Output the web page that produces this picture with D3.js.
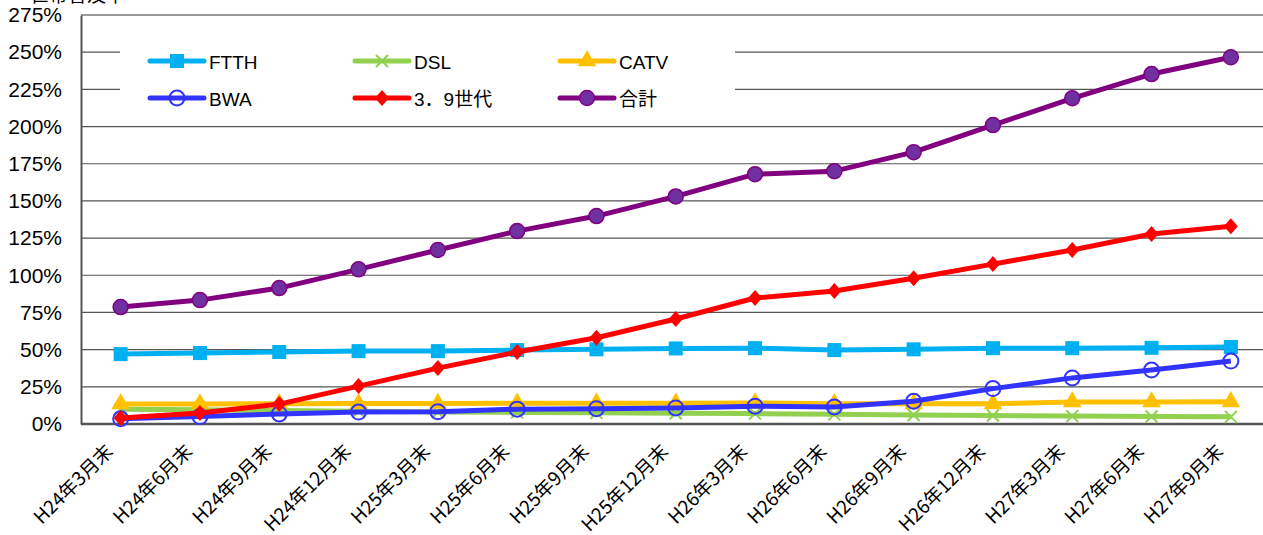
<!DOCTYPE html>
<html>
<head>
<meta charset="utf-8">
<script src="https://cdn.jsdelivr.net/npm/d3@7"></script>
<style>
  body { margin: 0; background: #fff; }
  svg { display: block; font-family: "Liberation Sans", Arial, "Noto Sans CJK JP", sans-serif; }
</style>
</head>
<body>
<svg id="chart" width="1263" height="535"></svg>
<script>
// categories (x axis)
const periods = ["H24年3月末","H24年6月末","H24年9月末","H24年12月末","H25年3月末","H25年6月末","H25年9月末",
  "H25年12月末","H26年3月末","H26年6月末","H26年9月末","H26年12月末","H27年3月末","H27年6月末","H27年9月末"];

// series values (%)
const ftth  = [47, 47.7, 48.4, 49, 49, 49.7, 50.2, 50.8, 51, 49.7, 50.2, 51, 51, 51.2, 51.8];
const dsl   = [10, 9.5, 9, 8.5, 8, 7.8, 7.5, 7.2, 7, 6.5, 6, 5.7, 5.3, 5, 4.8];
const catv  = [13.5, 13.5, 13.6, 13.7, 13.8, 13.9, 14, 14, 14.1, 13.6, 13.6, 13.6, 14.8, 14.8, 14.9];
const bwa   = [3.5, 5, 6.8, 8, 8.3, 10, 10.3, 10.8, 12, 11.5, 15.3, 23.8, 31, 36.3, 42.3];
const lte   = [4, 7.4, 13.4, 25.5, 37.6, 48.4, 58, 70.6, 84.7, 89.4, 98, 107.5, 117, 127.7, 133];
const total = [78.6, 83.3, 91.4, 104, 117, 129.7, 139.8, 153, 168, 170, 182.8, 201, 219, 235.3, 246.6];

const yTicks = [0, 25, 50, 75, 100, 125, 150, 175, 200, 225, 250, 275];

const series = [
  { name: "FTTH",   values: ftth,  color: "#00B0F0", fill: "#00B0F0", marker: "square" },
  { name: "DSL",    values: dsl,   color: "#92D050", fill: "none",    marker: "cross" },
  { name: "CATV",   values: catv,  color: "#FFC000", fill: "#FFC000", marker: "triangle" },
  { name: "BWA",    values: bwa,   color: "#3333FF", fill: "#fff",    marker: "circleOpen" },
  { name: "3．9世代", values: lte,   color: "#FF0000", fill: "#FF0000", marker: "diamond" },
  { name: "合計",   values: total, color: "#800080", fill: "#7030A0", marker: "circle" }
];

const svg = d3.select("#chart");
const margin = { left: 81, top: 15 };
const plotH = 409;
const step = 79.3;

const x = d3.scaleBand().domain(periods).range([margin.left, margin.left + step * periods.length]).padding(0);
const y = d3.scaleLinear().domain([0, 275]).range([margin.top + plotH, margin.top]);
const cx = d => x(d) + x.bandwidth() / 2;

// gridlines
svg.append("g").selectAll("line").data(yTicks.filter(t => t > 0 && t < 275)).join("line")
  .attr("x1", margin.left).attr("x2", 1263)
  .attr("y1", d => y(d)).attr("y2", d => y(d))
  .attr("stroke", "#555").attr("stroke-width", 1.2);

// top border
svg.append("line").attr("x1", margin.left).attr("x2", 1263).attr("y1", y(275)).attr("y2", y(275))
  .attr("stroke", "#999").attr("stroke-width", 2);

// axis title (cut off at top)
svg.append("text").attr("x", 30).attr("y", 2).attr("font-size", 19)
  .attr("font-family", "'Noto Sans CJK JP', sans-serif").text("世帯普及率");

// y axis
const yAxis = d3.axisLeft(y).tickValues(yTicks).tickSize(0).tickPadding(19).tickFormat(d => d + "%");
const yG = svg.append("g").attr("transform", `translate(${margin.left},0)`).call(yAxis);
yG.select(".domain").attr("stroke", "#555").attr("stroke-width", 2);
yG.selectAll("text").attr("font-size", 21).attr("fill", "#000")
  .attr("font-family", "'Liberation Sans', Arial, sans-serif");

// x axis
svg.append("line").attr("x1", margin.left).attr("x2", 1263).attr("y1", y(0)).attr("y2", y(0))
  .attr("stroke", "#555").attr("stroke-width", 2.5);
svg.append("g").selectAll("text").data(periods).join("text")
  .attr("transform", d => `translate(${cx(d) - 10},${y(0) + 25}) rotate(-45)`)
  .attr("text-anchor", "end")
  .attr("dominant-baseline", "middle")
  .attr("font-size", 19)
  .attr("font-family", "'Noto Sans CJK JP', sans-serif")
  .text(d => d);

function drawMarker(g, type, color, fill) {
  if (type === "square") {
    g.append("rect").attr("x", -7).attr("y", -7).attr("width", 14).attr("height", 14).attr("fill", fill);
  } else if (type === "cross") {
    g.append("path").attr("d", "M-6,-6L6,6M-6,6L6,-6").attr("stroke", color).attr("stroke-width", 2).attr("fill", "none");
  } else if (type === "triangle") {
    g.append("path").attr("d", d3.symbol(d3.symbolTriangle, 150)()).attr("fill", fill);
  } else if (type === "circleOpen") {
    g.append("circle").attr("r", 7.5).attr("fill", "none").attr("stroke", color).attr("stroke-width", 2);
  } else if (type === "diamond") {
    g.append("path").attr("d", "M0,-8L7,0L0,8L-7,0Z").attr("fill", fill);
  } else if (type === "circle") {
    g.append("circle").attr("r", 7.5).attr("fill", fill).attr("stroke", color).attr("stroke-width", 1.5);
  }
}

// legend background (covers gridlines)
svg.append("rect").attr("x", 120).attr("y", 36).attr("width", 615).attr("height", 80).attr("fill", "#fff");

const line = d3.line().x((d, i) => cx(periods[i])).y(d => y(d));

series.forEach(s => {
  const g = svg.append("g");
  g.append("path").datum(s.values).attr("d", line)
    .attr("fill", "none").attr("stroke", s.color).attr("stroke-width", 5)
    .attr("stroke-linejoin", "round");
  s.values.forEach((v, i) => {
    const m = g.append("g").attr("transform", `translate(${cx(periods[i])},${y(v)})`);
    drawMarker(m, s.marker, s.color, s.fill);
  });
});

// legend
const legendX = [150, 355, 560];
const legendY = [61, 98];
series.forEach((s, i) => {
  const lx = legendX[i % 3], ly = legendY[Math.floor(i / 3)];
  const g = svg.append("g");
  g.append("line").attr("x1", lx).attr("x2", lx + 54).attr("y1", ly).attr("y2", ly)
    .attr("stroke", s.color).attr("stroke-width", 5).attr("stroke-linecap", "round");
  const m = g.append("g").attr("transform", `translate(${lx + 27},${ly})`);
  drawMarker(m, s.marker, s.color, s.fill);
  g.append("text").attr("x", lx + 59).attr("y", ly + 1).attr("dominant-baseline", "central")
    .attr("font-size", 19)
    .attr("font-family", "'Liberation Sans', Arial, 'Noto Sans CJK JP', sans-serif")
    .text(s.name);
});
</script>
</body>
</html>
